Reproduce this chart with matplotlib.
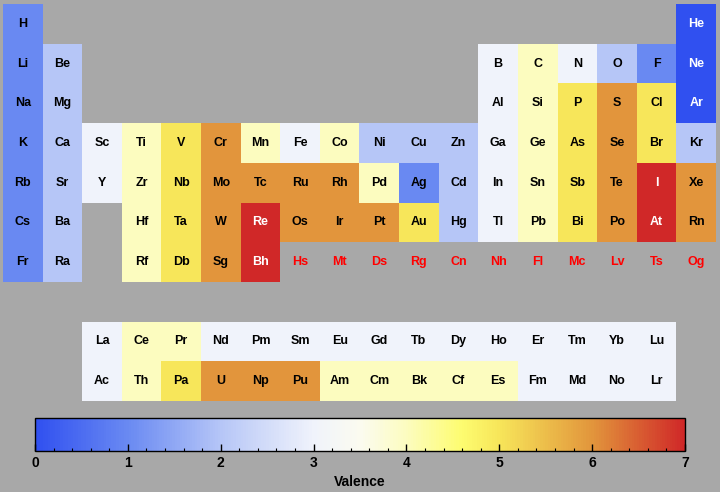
import numpy as np
import matplotlib
matplotlib.use("Agg")
import matplotlib.pyplot as plt
from matplotlib.colors import LinearSegmentedColormap, Normalize
from matplotlib.ticker import MultipleLocator

plt.rcParams['font.family'] = ['Liberation Sans', 'DejaVu Sans']

# symbols in order of atomic number
symbols = [
    "H", "He", "Li", "Be", "B", "C", "N", "O", "F", "Ne",
    "Na", "Mg", "Al", "Si", "P", "S", "Cl", "Ar",
    "K", "Ca", "Sc", "Ti", "V", "Cr", "Mn", "Fe", "Co", "Ni", "Cu", "Zn",
    "Ga", "Ge", "As", "Se", "Br", "Kr",
    "Rb", "Sr", "Y", "Zr", "Nb", "Mo", "Tc", "Ru", "Rh", "Pd", "Ag", "Cd",
    "In", "Sn", "Sb", "Te", "I", "Xe",
    "Cs", "Ba", "La", "Ce", "Pr", "Nd", "Pm", "Sm", "Eu", "Gd", "Tb", "Dy",
    "Ho", "Er", "Tm", "Yb", "Lu", "Hf", "Ta", "W", "Re", "Os", "Ir", "Pt",
    "Au", "Hg", "Tl", "Pb", "Bi", "Po", "At", "Rn",
    "Fr", "Ra", "Ac", "Th", "Pa", "U", "Np", "Pu", "Am", "Cm", "Bk", "Cf",
    "Es", "Fm", "Md", "No", "Lr", "Rf", "Db", "Sg", "Bh", "Hs", "Mt", "Ds",
    "Rg", "Cn", "Nh", "Fl", "Mc", "Lv", "Ts", "Og",
]

# valence (None = no data)
valence = [
    1, 0, 1, 2, 3, 4, 3, 2, 1, 0,
    1, 2, 3, 4, 5, 6, 5, 0,
    1, 2, 3, 4, 5, 6, 4, 3, 4, 2, 2, 2,
    3, 4, 5, 6, 5, 2,
    1, 2, 3, 4, 5, 6, 6, 6, 6, 4, 1, 2,
    3, 4, 5, 6, 7, 6,
    1, 2, 3, 4, 4, 3, 3, 3, 3, 3, 3, 3,
    3, 3, 3, 3, 3, 4, 5, 6, 7, 6, 6, 6,
    5, 2, 3, 4, 5, 6, 7, 6,
    1, 2, 3, 4, 5, 6, 6, 6, 4, 4, 4, 4,
    4, 3, 3, 3, 3, 4, 5, 6, 7, None, None, None,
    None, None, None, None, None, None, None, None,
]

cbar_ticks = [0, 1, 2, 3, 4, 5, 6, 7]


def position(z):
    # (row, column) in the table for atomic number z
    if z == 1:
        return 0, 0
    if z == 2:
        return 0, 17
    if z <= 18:
        row = 1 if z <= 10 else 2
        start = 3 if row == 1 else 11
        k = z - start
        return row, (k if k < 2 else k + 10)
    if z <= 54:
        row = 3 if z <= 36 else 4
        return row, z - (19 if row == 3 else 37)
    start = 55 if z <= 86 else 87
    row = 5 if z <= 86 else 6
    k = z - start
    if k < 2:
        return row, k
    if k < 17:
        return row + 3, k
    return row, k - 14


cmap = LinearSegmentedColormap.from_list("valence", [
    (0 / 7, "#3050f0"),
    (1 / 7, "#6a8af2"),
    (2 / 7, "#b6c6f7"),
    (3 / 7, "#f0f3fb"),
    (3.5 / 7, "#fbfbf0"),
    (4 / 7, "#fcfcc0"),
    (4.6 / 7, "#fdfc70"),
    (5 / 7, "#f7e65a"),
    (6 / 7, "#e2963c"),
    (7 / 7, "#d02828"),
])
norm = Normalize(0, 7)

grid = np.full((10, 18), np.nan)
for z, v in enumerate(valence, start=1):
    if v is not None:
        r, c = position(z)
        grid[r, c] = v

fig = plt.figure(figsize=(7.2, 4.92), dpi=100)
fig.patch.set_facecolor("#a8a8a8")

ax = fig.add_axes([3 / 720, 91 / 492, 713 / 720, 397 / 492])
ax.set_facecolor("#a8a8a8")
ax.pcolormesh(np.arange(19), np.arange(11), np.ma.masked_invalid(grid),
              cmap=cmap, norm=norm)
ax.set_xlim(0, 18)
ax.set_ylim(10, 0)
ax.axis("off")

for z, (sym, v) in enumerate(zip(symbols, valence), start=1):
    r, c = position(z)
    if v is None:
        col = "#ff0000"
    elif v in (0, 7):
        col = "white"
    else:
        col = "black"
    ax.text(c + 0.5, r + 0.5, sym, ha="center", va="center",
            fontsize=9, fontweight="bold", color=col)

cax = fig.add_axes([35 / 720, 41 / 492, 650 / 720, 33 / 492])
sm = plt.cm.ScalarMappable(cmap=cmap, norm=norm)
cb = fig.colorbar(sm, cax=cax, orientation="horizontal", ticks=cbar_ticks)
cb.outline.set_linewidth(1)
cb.outline.set_edgecolor("black")
cax.xaxis.set_minor_locator(MultipleLocator(0.2))
cax.tick_params(which="major", direction="in", length=5, width=1,
                labelsize=10)
cax.tick_params(which="minor", direction="in", length=2.5, width=0.8)
for lbl in cax.get_xticklabels():
    lbl.set_fontweight("bold")
cb.set_label("Valence", fontsize=10, fontweight="bold", labelpad=4)

fig.savefig("out.png", dpi=100, facecolor=fig.get_facecolor())
